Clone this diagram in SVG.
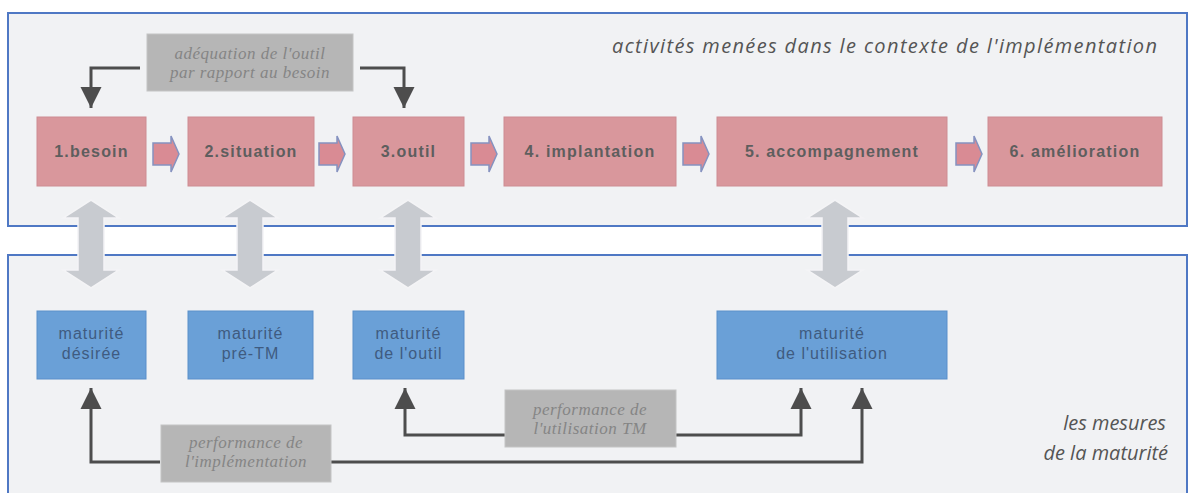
<svg xmlns="http://www.w3.org/2000/svg" width="1194" height="493" viewBox="0 0 1194 493">
  <style>
    .panel { fill: #f1f2f4; stroke: #4f78c4; stroke-width: 2; }
    .step { fill: #d9979c; stroke: #cd8c92; stroke-width: 1; }
    .step-text { font-family: "Liberation Sans", Arial, sans-serif; font-size: 16px; font-weight: bold; fill: #5e5e5e; text-anchor: middle; letter-spacing: 1.2px; }
    .measure { fill: #6aa0d7; stroke: #5a8fca; stroke-width: 1; }
    .measure-text { font-family: "Liberation Sans", Arial, sans-serif; font-size: 16px; fill: #3f5b80; text-anchor: middle; letter-spacing: 1px; }
    .note { fill: #b6b6b6; stroke: #c4c4c4; stroke-width: 1; }
    .note-text { font-family: "Liberation Serif", "Times New Roman", serif; font-style: italic; font-size: 17px; fill: #858585; text-anchor: middle; letter-spacing: 0.5px; }
    .caption { font-family: "Open Sans", sans-serif; font-style: italic; font-size: 20px; fill: #555555; }
    .link { fill: none; stroke: #4d4d4d; stroke-width: 3; }
    .flow { fill: #d98b94; stroke: #8592c0; stroke-width: 1.5; }
    .both { fill: #c8cbd0; stroke: #f4f4f6; stroke-width: 1.5; }
  </style>
  <defs>
    <marker id="head" viewBox="0 0 10 10" refX="10" refY="5" markerWidth="7" markerHeight="8" markerUnits="strokeWidth" orient="auto">
      <path d="M0,0 L10,5 L0,10 Z" fill="#4d4d4d"/>
    </marker>
    <path id="flow-arrow" d="M0,-11 H18 V-18 L26,0 L18,18 V11 H0 Z"/>
    <path id="both-arrow" d="M0,0 L28,18 H13 V70 H28 L0,88 L-28,70 H-13 V18 H-28 Z"/>
  </defs>

  <rect width="1194" height="493" fill="#ffffff"/>

  <!-- panels -->
  <g id="panel-activities">
    <rect class="panel" x="8" y="13" width="1179" height="213"/>
    <text class="caption" x="1157" y="53" text-anchor="end" textLength="545" lengthAdjust="spacing">activités menées dans le contexte de l'implémentation</text>
  </g>
  <g id="panel-measures">
    <rect class="panel" x="8" y="255" width="1179" height="245"/>
    <text class="caption" x="1166" y="430" text-anchor="end">les mesures</text>
    <text class="caption" x="1168" y="460" text-anchor="end">de la maturité</text>
  </g>

  <!-- connectors -->
  <g id="connectors">
    <use href="#flow-arrow" class="flow" x="153" y="154"/>
    <use href="#flow-arrow" class="flow" x="319" y="154"/>
    <use href="#flow-arrow" class="flow" x="471" y="154"/>
    <use href="#flow-arrow" class="flow" x="683" y="154"/>
    <use href="#flow-arrow" class="flow" x="956" y="154"/>

    <use href="#both-arrow" class="both" x="91" y="200"/>
    <use href="#both-arrow" class="both" x="250" y="200"/>
    <use href="#both-arrow" class="both" x="408" y="200"/>
    <use href="#both-arrow" class="both" x="835" y="200"/>

    <path class="link" d="M140,68 H91 V108" marker-end="url(#head)"/>
    <path class="link" d="M360,68 H404 V108" marker-end="url(#head)"/>

    <path class="link" d="M160,462 H91 V388" marker-end="url(#head)"/>
    <path class="link" d="M331,462 H862 V388" marker-end="url(#head)"/>
    <path class="link" d="M505,435 H405 V388" marker-end="url(#head)"/>
    <path class="link" d="M676,435 H801 V388" marker-end="url(#head)"/>
  </g>

  <!-- process steps -->
  <g id="step-1">
    <rect class="step" x="37" y="117" width="109" height="69"/>
    <text class="step-text" x="91.5" y="157">1.besoin</text>
  </g>
  <g id="step-2">
    <rect class="step" x="188" y="117" width="126" height="69"/>
    <text class="step-text" x="251" y="157">2.situation</text>
  </g>
  <g id="step-3">
    <rect class="step" x="353" y="117" width="111" height="69"/>
    <text class="step-text" x="408.5" y="157">3.outil</text>
  </g>
  <g id="step-4">
    <rect class="step" x="504" y="117" width="172" height="69"/>
    <text class="step-text" x="590" y="157">4. implantation</text>
  </g>
  <g id="step-5">
    <rect class="step" x="717" y="117" width="230" height="69"/>
    <text class="step-text" x="832" y="157">5. accompagnement</text>
  </g>
  <g id="step-6">
    <rect class="step" x="988" y="117" width="174" height="69"/>
    <text class="step-text" x="1075" y="157">6. amélioration</text>
  </g>

  <!-- notes -->
  <g id="note-fit">
    <rect class="note" x="147" y="34" width="206" height="57"/>
    <text class="note-text" x="250" y="59">adéquation de l'outil</text>
    <text class="note-text" x="250" y="78">par rapport au besoin</text>
  </g>
  <g id="note-implementation">
    <rect class="note" x="161" y="425" width="170" height="57"/>
    <text class="note-text" x="246" y="448">performance de</text>
    <text class="note-text" x="246" y="467">l'implémentation</text>
  </g>
  <g id="note-usage">
    <rect class="note" x="505" y="390" width="171" height="57"/>
    <text class="note-text" x="590" y="415">performance de</text>
    <text class="note-text" x="590" y="434">l'utilisation TM</text>
  </g>

  <!-- maturity measures -->
  <g id="measure-desired">
    <rect class="measure" x="37" y="311" width="109" height="68"/>
    <text class="measure-text" x="91.5" y="339">maturité</text>
    <text class="measure-text" x="91.5" y="359">désirée</text>
  </g>
  <g id="measure-pre-tm">
    <rect class="measure" x="188" y="311" width="125" height="68"/>
    <text class="measure-text" x="250.5" y="339">maturité</text>
    <text class="measure-text" x="250.5" y="359">pré-TM</text>
  </g>
  <g id="measure-tool">
    <rect class="measure" x="353" y="311" width="111" height="68"/>
    <text class="measure-text" x="408.5" y="339">maturité</text>
    <text class="measure-text" x="408.5" y="359">de l'outil</text>
  </g>
  <g id="measure-usage">
    <rect class="measure" x="717" y="311" width="230" height="68"/>
    <text class="measure-text" x="832" y="339">maturité</text>
    <text class="measure-text" x="832" y="359">de l'utilisation</text>
  </g>
</svg>
